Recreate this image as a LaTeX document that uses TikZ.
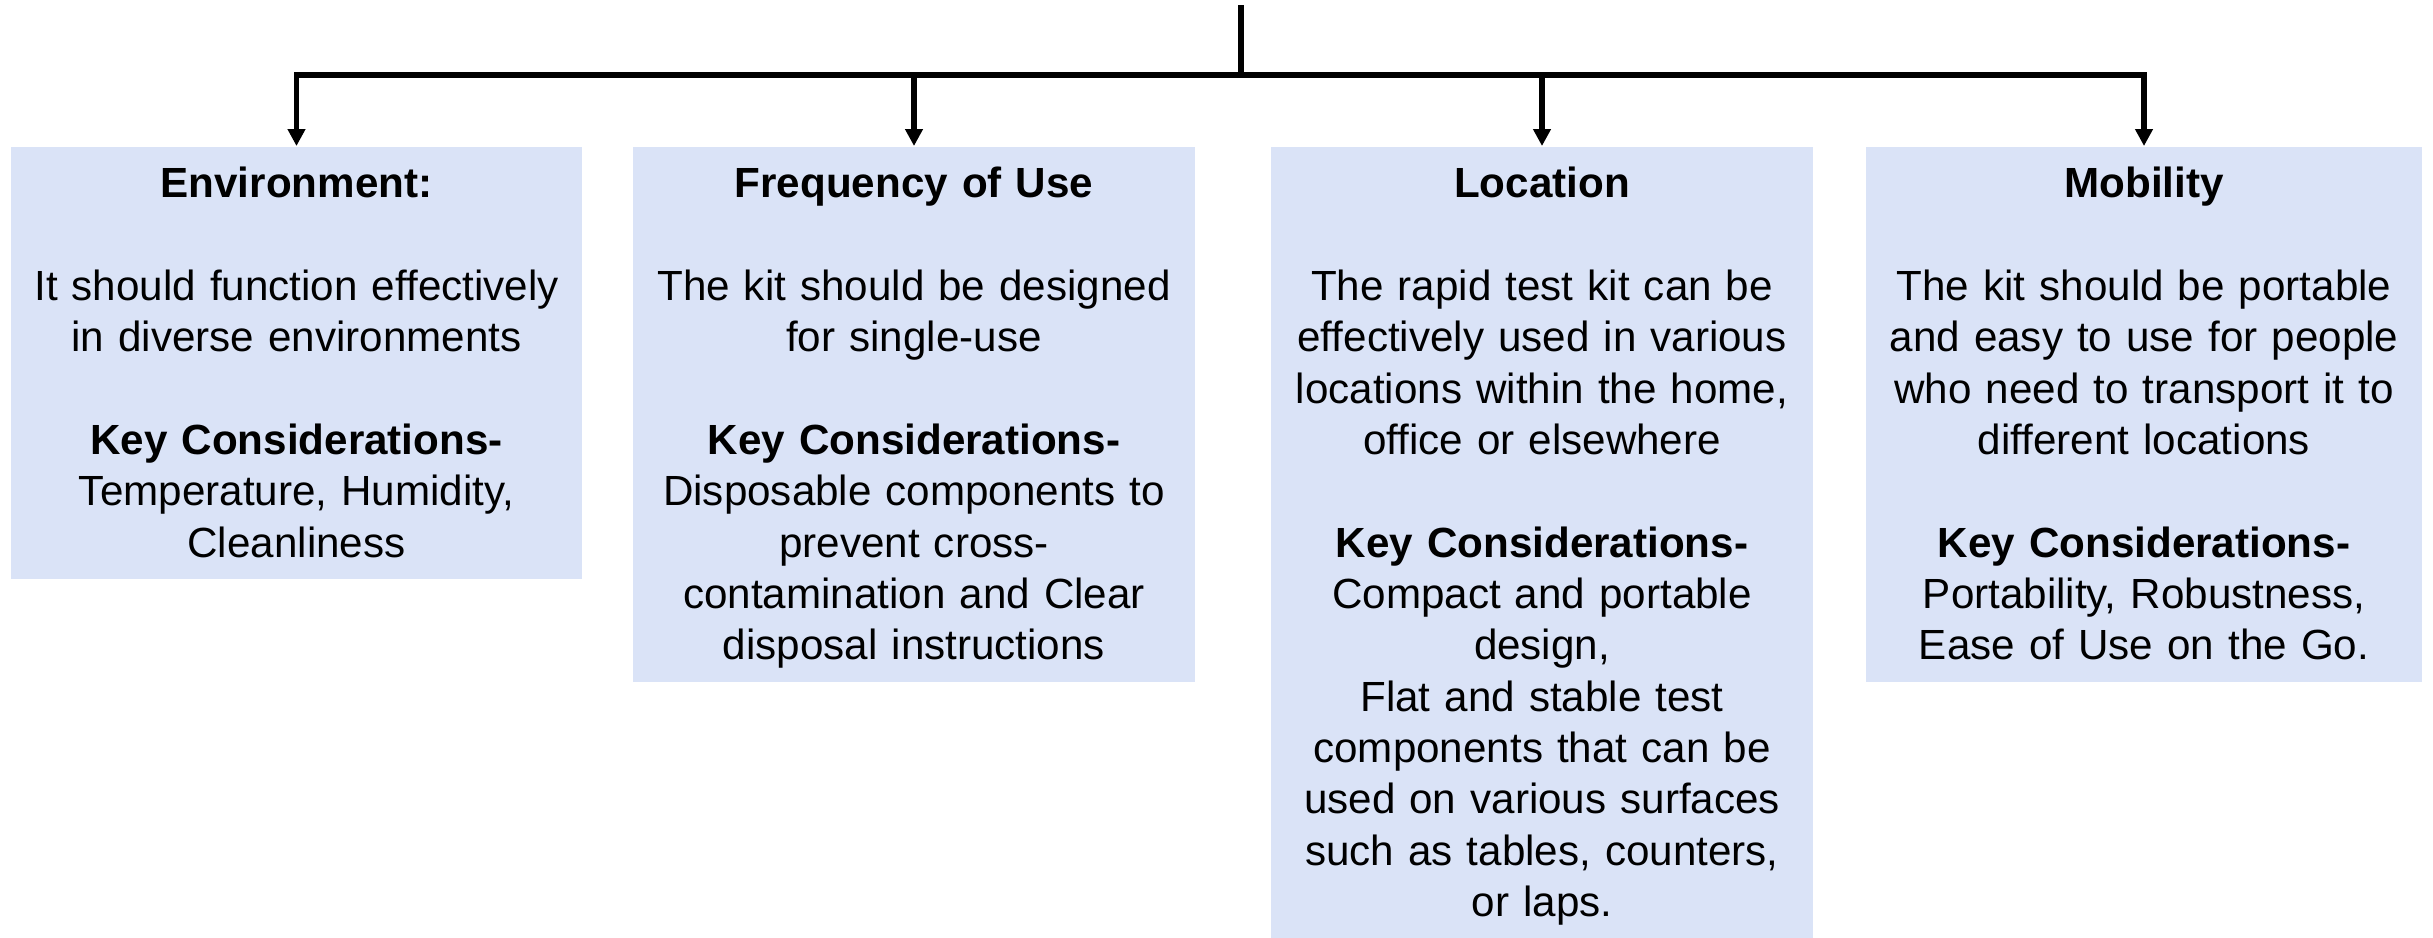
\documentclass[tikz,border=0pt]{standalone}
\usepackage{fontspec}
\setmainfont{Liberation Sans}
\usetikzlibrary{arrows.meta}
\definecolor{cardblue}{RGB}{218,227,247}
\tikzset{
  card/.style={fill=cardblue, anchor=north, align=center, inner xsep=0pt, inner ysep=0.1cm,
    font=\fontsize{12}{14.6}\selectfont,
    execute at begin node={\rule{0pt}{0.41cm}},
    execute at end node={\rule[-0.12cm]{0pt}{0.12cm}}},
  link/.style={line width=1.6pt, line join=miter},
  feed/.style={link, -{Triangle[length=0.17cm, width=0.17cm]}}
}
\begin{document}
\begin{tikzpicture}
\useasboundingbox (0,0) rectangle (24.33,-9.37);
% the four cards, tops level
\node[card, text width=5.71cm] (env) at (2.965,-1.46) {\textbf{Environment:}\\[0.515cm]
It should function effectively\\ in diverse environments\\[0.515cm]
\textbf{Key Considerations-}\\ Temperature, Humidity,\\ Cleanliness};
\node[card, text width=5.62cm] (freq) at (9.14,-1.46) {\textbf{Frequency of Use}\\[0.515cm]
The kit should be designed\\ for single-use\\[0.515cm]
\textbf{Key Considerations-}\\ Disposable components to\\ prevent cross-\\
contamination and Clear\\ disposal instructions};
\node[card, text width=5.42cm] (loc) at (15.42,-1.46) {\textbf{Location}\\[0.515cm]
The rapid test kit can be\\ effectively used in various\\ locations within the home,\\
office or elsewhere\\[0.515cm]
\textbf{Key Considerations-}\\ Compact and portable\\ design,\\ Flat and stable test\\
components that can be\\ used on various surfaces\\ such as tables, counters,\\ or laps.};
\node[card, text width=5.56cm] (mob) at (21.44,-1.46) {\textbf{Mobility}\\[0.515cm]
The kit should be portable\\ and easy to use for people\\ who need to transport it to\\
different locations\\[0.515cm]
\textbf{Key Considerations-}\\ Portability, Robustness,\\ Ease of Use on the Go.};
% connectors
\coordinate (top) at (12.41,-0.05);
\coordinate (hub) at (12.41,-0.75);
\draw[link] (top) -- (hub);
\draw[feed] (hub) -| (env.north);
\draw[feed] (hub) -| (mob.north);
\foreach \n in {freq,loc} % middle drops
\draw[feed] (\n.north |- hub) -- (\n.north);
\end{tikzpicture}
\end{document}
